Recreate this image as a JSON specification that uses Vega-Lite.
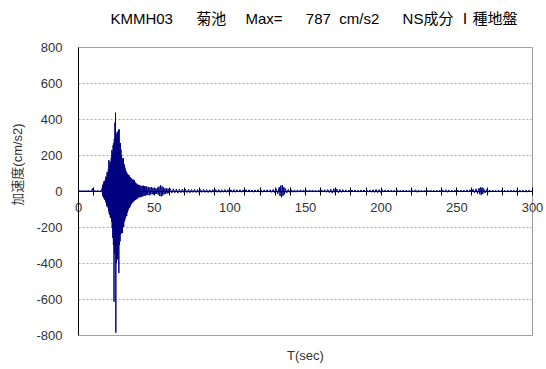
{
  "$schema": "https://vega.github.io/schema/vega-lite/v6.json",
  "width": 454,
  "height": 288,
  "autosize": {"type": "none"},
  "padding": {"left": 78, "top": 47, "right": 14, "bottom": 34},
  "background": "white",
  "title": {
    "text": "KMMH03\u3000\u00a0\u00a0菊池\u3000\u00a0Max=\u3000\u00a0\u00a0787\u00a0\u00a0cm/s2\u3000\u00a0\u00a0NS成分\u00a0Ⅰ種地盤",
    "font": "Liberation Sans, Noto Sans CJK JP",
    "fontSize": 15,
    "fontWeight": "normal",
    "color": "#000000",
    "anchor": "middle",
    "frame": "group",
    "baseline": "middle",
    "offset": 7,
    "dx": 9
  },
  "config": {
    "view": {"stroke": "#999999", "strokeWidth": 1},
    "axis": {
      "labelFont": "Liberation Sans, Noto Sans CJK JP",
      "titleFont": "Liberation Sans, Noto Sans CJK JP",
      "labelFontSize": 13,
      "titleFontSize": 13,
      "titleFontWeight": "normal",
      "labelColor": "#333333",
      "titleColor": "#333333"
    }
  },
  "resolve": {"axis": {"x": "independent"}},
  "layer": [
    {
      "data": {
        "values": [
          {"t":0,"a":0},{"t":1,"a":1},{"t":2,"a":-1},{"t":3,"a":1},{"t":4,"a":-1},{"t":5,"a":1},{"t":6,"a":-1},{"t":7,"a":2},{"t":8,"a":-2},{"t":9,"a":3},{"t":9.5,"a":14},{"t":10,"a":-3},{"t":11,"a":2},{"t":12,"a":-2},{"t":13,"a":2},{"t":14,"a":-3},{"t":15,"a":4},{"t":15.5,"a":-6},
          {"t":16.0,"a":18},{"t":16.2,"a":-25},{"t":16.4,"a":35},{"t":16.6,"a":-30},{"t":16.8,"a":42},{"t":17.0,"a":-38},{"t":17.2,"a":55},{"t":17.4,"a":-44},{"t":17.6,"a":48},{"t":17.8,"a":-50},
          {"t":18.0,"a":62},{"t":18.2,"a":-58},{"t":18.4,"a":80},{"t":18.6,"a":-66},{"t":18.8,"a":72},{"t":19.0,"a":-85},{"t":19.2,"a":105},{"t":19.4,"a":-78},{"t":19.6,"a":95},{"t":19.8,"a":-92},
          {"t":20.0,"a":120},{"t":20.2,"a":-110},{"t":20.4,"a":172},{"t":20.6,"a":-125},{"t":20.8,"a":140},{"t":21.0,"a":-133},{"t":21.2,"a":165},{"t":21.4,"a":-150},{"t":21.6,"a":150},{"t":21.8,"a":-140},
          {"t":22.0,"a":185},{"t":22.2,"a":-170},{"t":22.4,"a":228},{"t":22.6,"a":-205},{"t":22.8,"a":210},{"t":23.0,"a":-260},{"t":23.2,"a":255},{"t":23.4,"a":-300},{"t":23.6,"a":267},{"t":23.8,"a":-615},
          {"t":24.0,"a":290},{"t":24.2,"a":-350},{"t":24.4,"a":380},{"t":24.6,"a":-320},{"t":24.8,"a":435},{"t":25.0,"a":-787},{"t":25.2,"a":320},{"t":25.4,"a":-400},{"t":25.6,"a":300},{"t":25.8,"a":-360},
          {"t":26.0,"a":330},{"t":26.2,"a":-380},{"t":26.4,"a":290},{"t":26.6,"a":-330},{"t":26.8,"a":340},{"t":27.0,"a":-456},{"t":27.2,"a":343},{"t":27.4,"a":-300},{"t":27.6,"a":260},{"t":27.8,"a":-280},
          {"t":28.0,"a":267},{"t":28.2,"a":-240},{"t":28.4,"a":230},{"t":28.6,"a":-235},{"t":28.8,"a":200},{"t":29.0,"a":-210},{"t":29.2,"a":180},{"t":29.4,"a":-233},{"t":29.6,"a":170},{"t":29.8,"a":-190},
          {"t":30.0,"a":183},{"t":30.2,"a":-200},{"t":30.4,"a":150},{"t":30.6,"a":-170},{"t":30.8,"a":140},{"t":31.0,"a":-160},{"t":31.2,"a":125},{"t":31.4,"a":-150},{"t":31.6,"a":110},{"t":31.8,"a":-135},
          {"t":32.0,"a":107},{"t":32.2,"a":-140},{"t":32.4,"a":98},{"t":32.6,"a":-120},{"t":32.8,"a":95},{"t":33.0,"a":-110},{"t":33.2,"a":88},{"t":33.4,"a":-100},{"t":33.6,"a":90},{"t":33.8,"a":-95},
          {"t":34.0,"a":80},{"t":34.2,"a":-90},{"t":34.4,"a":78},{"t":34.6,"a":-82},{"t":34.8,"a":70},{"t":35.0,"a":-75},{"t":35.2,"a":72},{"t":35.4,"a":-70},{"t":35.6,"a":65},{"t":35.8,"a":-66},
          {"t":36.0,"a":62},{"t":36.2,"a":-62},{"t":36.4,"a":65},{"t":36.6,"a":-58},{"t":36.8,"a":55},{"t":37.0,"a":-55},{"t":37.2,"a":60},{"t":37.4,"a":-52},{"t":37.6,"a":50},{"t":37.8,"a":-50},
          {"t":38.0,"a":45},{"t":38.2,"a":-48},{"t":38.4,"a":42},{"t":38.6,"a":-45},{"t":38.8,"a":40},{"t":39.0,"a":-42},{"t":39.2,"a":35},{"t":39.4,"a":-40},{"t":39.6,"a":33},{"t":39.8,"a":-38},
          {"t":40.0,"a":35},{"t":40.4,"a":-34},{"t":40.8,"a":32},{"t":41.2,"a":-35},{"t":41.6,"a":30},{"t":42.0,"a":-32},{"t":42.4,"a":28},{"t":42.8,"a":-30},{"t":43.2,"a":30},{"t":43.6,"a":-28},{"t":44.0,"a":27},{"t":44.4,"a":-26},{"t":44.8,"a":25},
          {"t":45.0,"a":-24},{"t":45.5,"a":25},{"t":46.0,"a":-22},{"t":46.5,"a":22},{"t":47.0,"a":-24},{"t":47.5,"a":20},{"t":48.0,"a":-20},{"t":48.5,"a":22},{"t":49.0,"a":-18},{"t":49.5,"a":18},
          {"t":50.0,"a":-20},{"t":50.5,"a":16},{"t":51.0,"a":-17},{"t":51.5,"a":15},{"t":52.0,"a":-16},{"t":52.5,"a":18},{"t":53.0,"a":-20},{"t":53.5,"a":25},{"t":54.0,"a":-28},{"t":54.5,"a":32},
          {"t":55.0,"a":-30},{"t":55.5,"a":26},{"t":56.0,"a":-25},{"t":56.5,"a":20},{"t":57.0,"a":-18},{"t":57.5,"a":15},{"t":58.0,"a":-16},{"t":58.5,"a":14},{"t":59.0,"a":-13},{"t":59.5,"a":14},{"t":60.0,"a":-12},
          {"t":61,"a":12},{"t":62,"a":-11},{"t":63,"a":12},{"t":64,"a":-10},{"t":65,"a":11},{"t":66,"a":-12},{"t":67,"a":10},{"t":68,"a":-10},{"t":69,"a":11},{"t":70,"a":-9},
          {"t":71,"a":10},{"t":72,"a":-9},{"t":73,"a":9},{"t":74,"a":-10},{"t":75,"a":9},{"t":76,"a":-8},{"t":77,"a":10},{"t":78,"a":-9},{"t":79,"a":8},{"t":80,"a":-9},
          {"t":81,"a":8},{"t":82,"a":-8},{"t":83,"a":9},{"t":84,"a":-8},{"t":85,"a":8},{"t":86,"a":-9},{"t":87,"a":7},{"t":88,"a":-8},{"t":89,"a":8},{"t":90,"a":-7},
          {"t":91,"a":8},{"t":92,"a":-7},{"t":93,"a":8},{"t":94,"a":-8},{"t":95,"a":7},{"t":96,"a":-7},{"t":97,"a":8},{"t":98,"a":-7},{"t":99,"a":7},{"t":100,"a":-8},
          {"t":101,"a":7},{"t":102,"a":-7},{"t":103,"a":8},{"t":104,"a":-7},{"t":105,"a":7},{"t":106,"a":-6},{"t":107,"a":7},{"t":108,"a":-7},{"t":109,"a":6},{"t":110,"a":-7},
          {"t":111,"a":7},{"t":112,"a":-6},{"t":113,"a":7},{"t":114,"a":-6},{"t":115,"a":6},{"t":116,"a":-7},{"t":117,"a":6},{"t":118,"a":-6},{"t":119,"a":7},{"t":120,"a":-6},
          {"t":121,"a":6},{"t":122,"a":-7},{"t":123,"a":6},{"t":124,"a":-6},{"t":125,"a":7},{"t":126,"a":-6},{"t":127,"a":7},{"t":128,"a":-8},{"t":129,"a":9},{"t":130,"a":-10},
          {"t":131,"a":12},{"t":132,"a":-16},{"t":133,"a":22},{"t":133.5,"a":-28},{"t":134,"a":30},{"t":134.5,"a":-35},{"t":135,"a":33},{"t":135.5,"a":-28},{"t":136,"a":22},{"t":136.5,"a":-18},{"t":137,"a":14},{"t":138,"a":-10},{"t":139,"a":9},{"t":140,"a":-8},
          {"t":141,"a":7},{"t":142,"a":-7},{"t":143,"a":6},{"t":144,"a":-7},{"t":145,"a":6},{"t":146,"a":-6},{"t":147,"a":7},{"t":148,"a":-6},{"t":149,"a":6},{"t":150,"a":-7},
          {"t":151,"a":6},{"t":152,"a":-6},{"t":153,"a":6},{"t":154,"a":-5},{"t":155,"a":6},{"t":156,"a":-6},{"t":157,"a":5},{"t":158,"a":-6},{"t":159,"a":6},{"t":160,"a":-5},
          {"t":161,"a":6},{"t":162,"a":-6},{"t":163,"a":7},{"t":164,"a":-7},{"t":165,"a":8},{"t":166,"a":-9},{"t":167,"a":10},{"t":168,"a":-12},{"t":169,"a":13},{"t":170,"a":-12},
          {"t":171,"a":11},{"t":172,"a":-10},{"t":173,"a":9},{"t":174,"a":-8},{"t":175,"a":7},{"t":176,"a":-6},{"t":177,"a":6},{"t":178,"a":-6},{"t":179,"a":5},{"t":180,"a":-6},
          {"t":181,"a":6},{"t":182,"a":-5},{"t":183,"a":6},{"t":184,"a":-6},{"t":185,"a":5},{"t":186,"a":-6},{"t":187,"a":6},{"t":188,"a":-5},{"t":189,"a":6},{"t":190,"a":-6},
          {"t":191,"a":5},{"t":192,"a":-6},{"t":193,"a":6},{"t":194,"a":-7},{"t":195,"a":7},{"t":196,"a":-8},{"t":197,"a":9},{"t":198,"a":-9},{"t":199,"a":8},{"t":200,"a":-8},
          {"t":201,"a":7},{"t":202,"a":-6},{"t":203,"a":6},{"t":204,"a":-5},{"t":205,"a":6},{"t":206,"a":-5},{"t":207,"a":5},{"t":208,"a":-6},{"t":209,"a":5},{"t":210,"a":-5},
          {"t":211,"a":6},{"t":212,"a":-5},{"t":213,"a":5},{"t":214,"a":-5},{"t":215,"a":6},{"t":216,"a":-5},{"t":217,"a":5},{"t":218,"a":-5},{"t":219,"a":5},{"t":220,"a":-6},
          {"t":221,"a":6},{"t":222,"a":-6},{"t":223,"a":7},{"t":224,"a":-7},{"t":225,"a":6},{"t":226,"a":-6},{"t":227,"a":5},{"t":228,"a":-5},{"t":229,"a":5},{"t":230,"a":-5},
          {"t":231,"a":5},{"t":232,"a":-5},{"t":233,"a":6},{"t":234,"a":-5},{"t":235,"a":5},{"t":236,"a":-5},{"t":237,"a":5},{"t":238,"a":-5},{"t":239,"a":5},{"t":240,"a":-5},
          {"t":241,"a":6},{"t":242,"a":-6},{"t":243,"a":7},{"t":244,"a":-7},{"t":245,"a":6},{"t":246,"a":-6},{"t":247,"a":5},{"t":248,"a":-5},{"t":249,"a":5},{"t":250,"a":-5},
          {"t":251,"a":5},{"t":252,"a":-5},{"t":253,"a":5},{"t":254,"a":-5},{"t":255,"a":5},{"t":256,"a":-5},{"t":257,"a":6},{"t":258,"a":-6},{"t":259,"a":7},{"t":260,"a":-8},
          {"t":261,"a":9},{"t":262,"a":-10},{"t":263,"a":12},{"t":264,"a":-14},{"t":265,"a":16},{"t":265.5,"a":-18},{"t":266,"a":20},{"t":266.5,"a":-22},{"t":267,"a":20},{"t":267.5,"a":-17},{"t":268,"a":14},{"t":269,"a":-11},{"t":270,"a":9},
          {"t":271,"a":-7},{"t":272,"a":6},{"t":273,"a":-6},{"t":274,"a":5},{"t":275,"a":-5},{"t":276,"a":5},{"t":277,"a":-5},{"t":278,"a":5},{"t":279,"a":-5},{"t":280,"a":5},
          {"t":281,"a":-5},{"t":282,"a":4},{"t":283,"a":-5},{"t":284,"a":4},{"t":285,"a":-4},{"t":286,"a":5},{"t":287,"a":-4},{"t":288,"a":4},{"t":289,"a":-4},{"t":290,"a":4},
          {"t":291,"a":-4},{"t":292,"a":4},{"t":293,"a":-4},{"t":294,"a":4},{"t":295,"a":-4},{"t":296,"a":4},{"t":297,"a":-4},{"t":298,"a":4},{"t":299,"a":-3},{"t":300,"a":0}
        ]
      },
      "mark": {"type": "line", "color": "#000080", "strokeWidth": 1, "clip": true},
      "encoding": {
        "x": {
          "field": "t", "type": "quantitative",
          "scale": {"domain": [0, 300], "nice": false, "zero": false},
          "axis": {
            "orient": "bottom",
            "offset": -144,
            "values": [0,10,20,30,40,50,60,70,80,90,100,110,120,130,140,150,160,170,180,190,200,210,220,230,240,250,260,270,280,290,300],
            "labelExpr": "datum.value % 50 === 0 ? datum.label : ''",
            "labelOverlap": false,
            "labelFlush": false,
            "labelPadding": 6,
            "labelBaseline": "top",
            "tickSize": 4,
            "tickColor": "#000000",
            "domainColor": "#000000",
            "grid": false,
            "title": "T(sec)",
            "titleY": 164,
            "titleBaseline": "middle",
            "titleX": 227
          }
        },
        "y": {
          "field": "a", "type": "quantitative",
          "scale": {"domain": [-800, 800], "nice": false},
          "axis": {
            "values": [-800,-600,-400,-200,0,200,400,600,800],
            "labelExpr": "datum.value < 0 ? '-' + abs(datum.value) : '' + datum.value",
            "ticks": false,
            "labelPadding": 16,
            "domainColor": "#000000",
            "grid": true,
            "gridColor": "#aaaaaa",
            "gridDash": [2, 2],
            "title": "加速度(cm/s2)",
            "titleX": -61,
            "titleY": 117,
            "titleBaseline": "middle",
            "titleAngle": -90
          }
        }
      }
    },
    {
      "data": {"values": [{"t": 0}, {"t": 300}]},
      "mark": {"type": "point", "opacity": 0},
      "encoding": {
        "x": {
          "field": "t", "type": "quantitative",
          "scale": {"domain": [0, 300], "nice": false, "zero": false},
          "axis": {
            "orient": "top",
            "offset": -144,
            "values": [0,10,20,30,40,50,60,70,80,90,100,110,120,130,140,150,160,170,180,190,200,210,220,230,240,250,260,270,280,290,300],
            "labels": false,
            "domain": false,
            "tickSize": 4,
            "tickColor": "#000000",
            "grid": false,
            "title": null
          }
        }
      }
    }
  ]
}
